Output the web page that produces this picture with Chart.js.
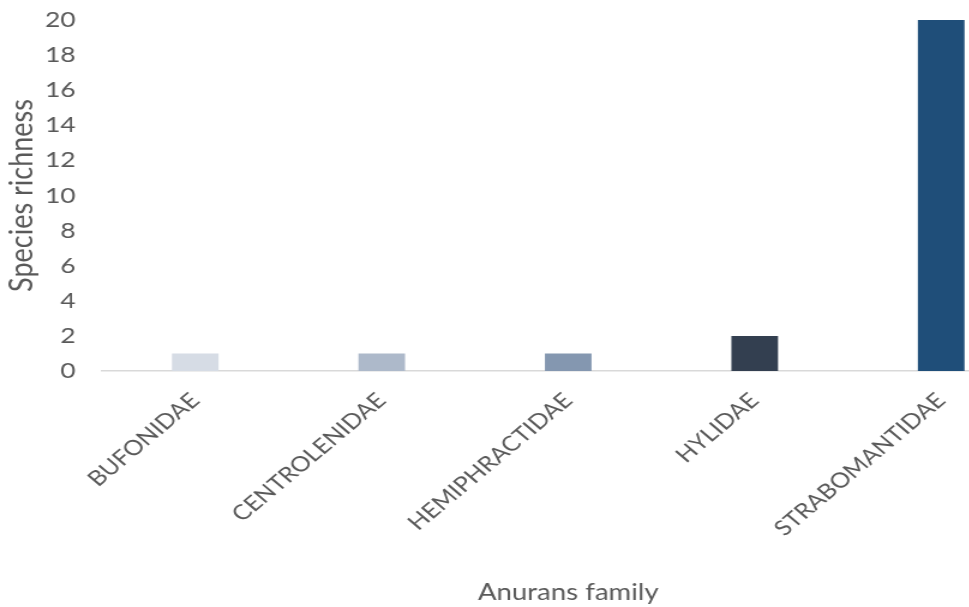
<!DOCTYPE html>
<html>
<head>
<meta charset="utf-8">
<script src="https://cdn.jsdelivr.net/npm/chart.js@4"></script>
<style>
  html, body { margin: 0; padding: 0; background: #fff; overflow: hidden; }
  /* the reference picture is stretched sideways, so stretch the chart the same way */
  #wrap { width: 862px; height: 607px; transform: scaleX(1.2); transform-origin: 0 0; }
</style>
</head>
<body>
<div id="wrap"><canvas id="chart" width="862" height="607"></canvas></div>
<script>
const families = ["BUFONIDAE", "CENTROLENIDAE", "HEMIPHRACTIDAE", "HYLIDAE", "STRABOMANTIDAE"];
const richness = [1, 1, 1, 2, 20];
const barColors = ["#d6dce5", "#adb9ca", "#8497b0", "#333f50", "#1f4e79"];

const textColor = "#595959";

const ctx = document.getElementById("chart").getContext("2d");
new Chart(ctx, {
    type: "bar",
    data: {
        labels: families,
        datasets: [{
            data: richness,
            backgroundColor: barColors,
            barPercentage: 0.25,
            categoryPercentage: 1
        }]
    },
    options: {
        responsive: false,
        animation: false,
        layout: { padding: { top: 0, left: 0, right: 0, bottom: 0 } },
        plugins: { legend: { display: false }, tooltip: { enabled: false } },
        scales: {
            x: {
                grid: { display: false, drawTicks: false },
                border: { color: "#d9d9d9", width: 1.5 },
                ticks: {
                    color: textColor,
                    font: { family: "Lato", size: 21 },
                    minRotation: 45,
                    maxRotation: 45,
                    padding: 17
                },
                title: {
                    display: true,
                    text: "Anurans family",
                    color: textColor,
                    font: { family: "Lato", size: 23 },
                    padding: { top: 0, bottom: 1 }
                },
                afterFit: (scale) => { scale.height = 236; }
            },
            y: {
                min: 0,
                max: 20,
                grid: { display: false, drawTicks: false },
                border: { display: false },
                ticks: {
                    stepSize: 2,
                    color: textColor,
                    font: { family: "Lato", size: 22 },
                    padding: 22
                },
                title: {
                    display: true,
                    text: "Species richness",
                    color: textColor,
                    font: { family: "Lato", size: 27 },
                    padding: { top: 2, bottom: 0 }
                },
                afterFit: (scale) => {
                    scale.width = 85;
                    scale.paddingTop = 20;
                }
            }
        }
    }
});
</script>
</body>
</html>
